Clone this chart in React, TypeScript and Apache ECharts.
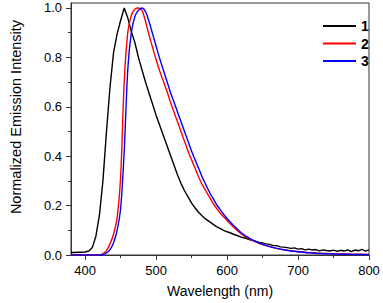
import React, { useEffect, useRef } from "react";
import * as echarts from "echarts";

// Compound 1 (black) wavelength grid and normalized intensities
const wavelengths1 = [
  380, 385, 390, 395, 400, 405, 410, 415, 420, 425, 430, 435, 440, 445, 450, 455,
  460, 465, 470, 475, 480, 485, 490, 495, 500, 505, 510, 515, 520, 525, 530, 535,
  540, 545, 550, 555, 560, 565, 570, 575, 580, 585, 590, 595, 600, 605, 610, 615,
  620, 625, 630, 635, 640, 645, 650, 655, 660, 665, 670, 675, 680, 685, 690, 695,
  700, 705, 710, 715, 720, 725, 730, 735, 740, 745, 750, 755, 760, 765, 770, 775,
  780, 785, 790, 795, 800,
];
const intensity1 = [
  0.010, 0.010, 0.011, 0.011, 0.012, 0.016, 0.030, 0.075, 0.16, 0.30, 0.50, 0.68, 0.82, 0.895, 0.95, 1.0,
  0.96, 0.905, 0.86, 0.80, 0.75, 0.70, 0.655, 0.61, 0.565, 0.525, 0.485, 0.445, 0.405, 0.365, 0.325, 0.29,
  0.26, 0.235, 0.21, 0.19, 0.172, 0.158, 0.145, 0.135, 0.125, 0.115, 0.108, 0.10, 0.094, 0.089, 0.083, 0.078,
  0.072, 0.069, 0.063, 0.059, 0.056, 0.051, 0.049, 0.045, 0.043, 0.038, 0.038, 0.033, 0.032, 0.030, 0.027, 0.029,
  0.024, 0.026, 0.021, 0.024, 0.020, 0.022, 0.017, 0.021, 0.018, 0.016, 0.020, 0.015, 0.019, 0.016, 0.021, 0.014,
  0.020, 0.017, 0.023, 0.016, 0.021,
];

// Compounds 2 (red) and 3 (blue) share this grid
const wavelengths = [
  380, 385, 390, 395, 400, 405, 410, 415, 420, 425, 430, 435, 440, 445, 450, 455,
  460, 465, 470, 475, 480, 485, 490, 495, 500, 505, 510, 515, 520, 525, 530, 535,
  540, 545, 550, 555, 560, 565, 570, 575, 580, 585, 590, 595, 600, 610, 620, 630,
  640, 650, 660, 670, 680, 690, 700, 710, 720, 730, 740, 750, 760, 770, 780, 790, 800,
];
const intensity2 = [
  0, 0, 0, 0, 0, 0, 0, 0, 0, 0.005, 0.018, 0.045, 0.085, 0.15, 0.32, 0.70,
  0.90, 0.97, 0.995, 1.0, 0.99, 0.945, 0.89, 0.84, 0.79, 0.745, 0.705, 0.665, 0.62, 0.58, 0.54, 0.50,
  0.46, 0.42, 0.385, 0.35, 0.315, 0.285, 0.26, 0.235, 0.21, 0.19, 0.17, 0.155, 0.14, 0.11, 0.085, 0.067,
  0.053, 0.042, 0.034, 0.027, 0.021, 0.017, 0.014, 0.011, 0.009, 0.007, 0.006, 0.005, 0.004, 0.004, 0.003, 0.003, 0.002,
];
const intensity3 = [
  0, 0, 0, 0, 0, 0, 0, 0, 0, 0.002, 0.008, 0.022, 0.05, 0.10, 0.19, 0.42,
  0.75, 0.90, 0.965, 0.99, 1.0, 0.985, 0.945, 0.895, 0.845, 0.795, 0.75, 0.705, 0.66, 0.62, 0.58, 0.54,
  0.50, 0.46, 0.42, 0.385, 0.35, 0.315, 0.285, 0.255, 0.23, 0.205, 0.185, 0.165, 0.148, 0.117, 0.09, 0.07,
  0.055, 0.043, 0.034, 0.027, 0.021, 0.016, 0.013, 0.010, 0.008, 0.006, 0.005, 0.004, 0.003, 0.003, 0.002, 0.002, 0.001,
];

const seriesNames = ["1", "2", "3"];
const seriesColors = ["#000000", "#ff0000", "#0000ff"];

const xMajorTicks = [400, 500, 600, 700, 800];
const xMinorTicks = [450, 550, 650, 750];
const yMajorTicks = [0, 0.2, 0.4, 0.6, 0.8, 1.0];
const yMinorTicks = [0.1, 0.3, 0.5, 0.7, 0.9];

const xTitle = "Wavelength (nm)";
const yTitle = "Normalized Emission Intensity";

const FONT = "Arial, 'Liberation Sans', Helvetica, sans-serif";
const AXIS_COLOR = "#333333";

function zip(xs: number[], ys: number[]) {
  return xs.map((x, i) => [x, ys[i]]);
}

export default function App() {
  const ref = useRef<HTMLDivElement>(null);
  useEffect(() => {
    if (!ref.current) return;
    const chart = echarts.init(ref.current, undefined, { renderer: "svg" });
    const lineAxis = { show: true, lineStyle: { color: AXIS_COLOR, width: 1 } };
    chart.setOption({
      animation: false,
      backgroundColor: "#ffffff",
      grid: {
        left: 56,
        right: 14,
        top: 3,
        bottom: 48,
        show: true,
        borderColor: AXIS_COLOR,
        borderWidth: 1,
        backgroundColor: "transparent",
      },
      legend: {
        data: seriesNames.map((n) => ({ name: n, icon: "rect" })),
        orient: "vertical",
        left: 318,
        top: 14,
        itemWidth: 33,
        itemHeight: 2,
        itemGap: 3.5,
        textStyle: { fontSize: 14, fontWeight: "bold", color: "#000", fontFamily: FONT, lineHeight: 14 },
      },
      xAxis: [
        {
          type: "value",
          min: 380,
          max: 800,
          position: "bottom",
          axisLine: lineAxis,
          axisTick: { show: true, inside: false, length: 5, customValues: xMajorTicks, lineStyle: { color: AXIS_COLOR } },
          axisLabel: { customValues: xMajorTicks, fontSize: 13, color: "#000", fontFamily: FONT, margin: 9 },
          splitLine: { show: false },
          name: xTitle,
          nameLocation: "middle",
          nameGap: 29,
          nameTextStyle: { fontSize: 14, color: "#000", fontFamily: FONT },
        },
        {
          type: "value",
          min: 380,
          max: 800,
          position: "bottom",
          axisLine: { show: false },
          axisTick: { show: true, inside: false, length: 3, customValues: xMinorTicks, lineStyle: { color: AXIS_COLOR } },
          axisLabel: { show: false },
          splitLine: { show: false },
        },
      ],
      yAxis: [
        {
          type: "value",
          min: 0,
          max: 1.02,
          position: "left",
          axisLine: lineAxis,
          axisTick: { show: true, inside: false, length: 5, customValues: yMajorTicks, lineStyle: { color: AXIS_COLOR } },
          axisLabel: {
            customValues: yMajorTicks,
            fontSize: 13,
            color: "#000",
            fontFamily: FONT,
            margin: 9,
            formatter: (v: number) => v.toFixed(1),
          },
          splitLine: { show: false },
          name: yTitle,
          nameLocation: "middle",
          nameGap: 48,
          nameTextStyle: { fontSize: 14.5, color: "#000", fontFamily: FONT, padding: [0, 0, 0, 24] },
        },
        {
          type: "value",
          min: 0,
          max: 1.02,
          position: "left",
          axisLine: { show: false },
          axisTick: { show: true, inside: false, length: 3, customValues: yMinorTicks, lineStyle: { color: AXIS_COLOR } },
          axisLabel: { show: false },
          splitLine: { show: false },
        },
      ],
      series: [
        {
          name: seriesNames[0],
          type: "line",
          data: zip(wavelengths1, intensity1),
          showSymbol: false,
          symbol: "none",
          lineStyle: { color: seriesColors[0], width: 1.4 },
          itemStyle: { color: seriesColors[0] },
        },
        {
          name: seriesNames[1],
          type: "line",
          data: zip(wavelengths, intensity2),
          showSymbol: false,
          symbol: "none",
          smooth: 0.3,
          lineStyle: { color: seriesColors[1], width: 1.4 },
          itemStyle: { color: seriesColors[1] },
        },
        {
          name: seriesNames[2],
          type: "line",
          data: zip(wavelengths, intensity3),
          showSymbol: false,
          symbol: "none",
          smooth: 0.3,
          lineStyle: { color: seriesColors[2], width: 1.4 },
          itemStyle: { color: seriesColors[2] },
        },
      ],
    });
    return () => chart.dispose();
  }, []);
  return <div ref={ref} style={{ position: "fixed", left: 0, top: 0, width: 383, height: 303 }} />;
}
